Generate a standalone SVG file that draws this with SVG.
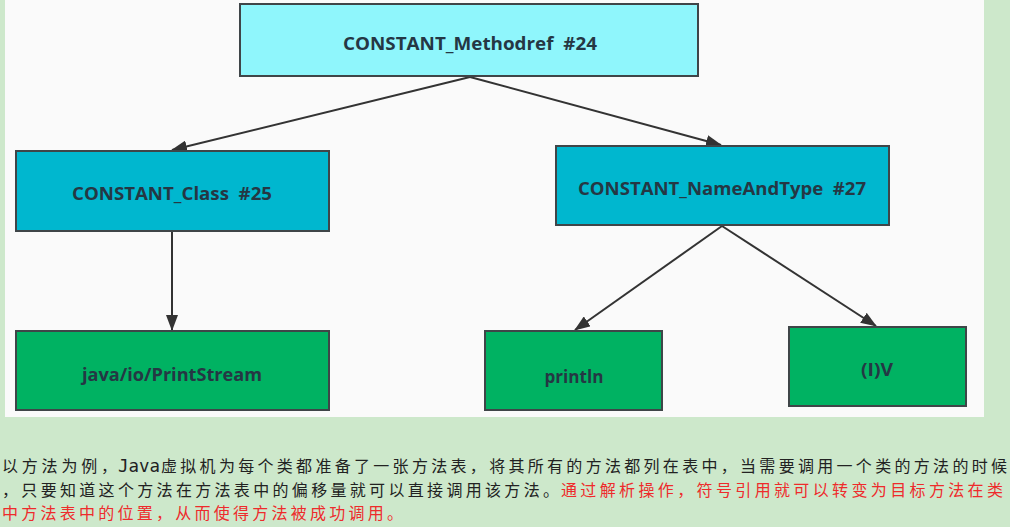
<svg xmlns="http://www.w3.org/2000/svg" width="1010" height="527" viewBox="0 0 1010 527">
<style>
.box{stroke:#3f4548;stroke-width:2}
.lbl{font-family:"Open Sans","Liberation Sans",sans-serif;font-weight:bold;font-size:17px;fill:#253744;text-anchor:middle;dominant-baseline:central}
.edge{stroke:#333;stroke-width:2;fill:none}
.cn{font-family:"Noto Sans CJK SC",sans-serif;font-size:16px}
.blk{fill:#222}
.red{fill:#ee2b2b}
</style>
<defs>
<marker id="ah" markerUnits="userSpaceOnUse" markerWidth="16" markerHeight="12" refX="15" refY="6" orient="auto">
<path d="M0,0 L16,6 L0,12 Z" fill="#333"/>
</marker>
</defs>
<rect x="0" y="0" width="1010" height="527" fill="#cde8cb"/>
<rect x="5" y="0" width="979" height="417" fill="#fafafa"/>
<g id="connectors">
<line class="edge" x1="470" y1="77" x2="172" y2="150" marker-end="url(#ah)"/>
<line class="edge" x1="470" y1="77" x2="721" y2="145" marker-end="url(#ah)"/>
<line class="edge" x1="172" y1="232" x2="172" y2="330" marker-end="url(#ah)"/>
<line class="edge" x1="722" y1="226" x2="575" y2="330" marker-end="url(#ah)"/>
<line class="edge" x1="722" y1="226" x2="876" y2="326" marker-end="url(#ah)"/>
</g>
<g id="n24">
<rect class="box" x="240" y="4" width="458" height="72" fill="#8ff6fc"/>
<text class="lbl" x="470" y="43" textLength="254" lengthAdjust="spacingAndGlyphs">CONSTANT_Methodref&#160; #24</text>
</g>
<g id="n25">
<rect class="box" x="16" y="151" width="313" height="80" fill="#00b7cf"/>
<text class="lbl" x="172" y="193" textLength="200" lengthAdjust="spacingAndGlyphs">CONSTANT_Class&#160; #25</text>
</g>
<g id="n27">
<rect class="box" x="556" y="146" width="333" height="79" fill="#00b7cf"/>
<text class="lbl" x="722" y="188" textLength="288" lengthAdjust="spacingAndGlyphs">CONSTANT_NameAndType&#160; #27</text>
</g>
<g id="nPrintStream">
<rect class="box" x="16" y="331" width="313" height="79" fill="#00b262"/>
<text class="lbl" x="172" y="374" textLength="180" lengthAdjust="spacingAndGlyphs">java/io/PrintStream</text>
</g>
<g id="nPrintln">
<rect class="box" x="485" y="331" width="177" height="79" fill="#00b262"/>
<text class="lbl" x="574" y="376" textLength="59" lengthAdjust="spacingAndGlyphs">println</text>
</g>
<g id="nIV">
<rect class="box" x="789" y="327" width="177" height="79" fill="#00b262"/>
<text class="lbl" x="877" y="369" textLength="32" lengthAdjust="spacingAndGlyphs">(I)V</text>
</g>
<g id="caption">
<text class="cn blk" x="2" y="472" textLength="115" lengthAdjust="spacing">以方法为例，</text>
<text x="118" y="472" font-family="DejaVu Sans Mono,Liberation Mono,monospace" font-size="17" fill="#222" textLength="42" lengthAdjust="spacingAndGlyphs">Java</text>
<text class="cn blk" x="161" y="472" textLength="846" lengthAdjust="spacing">虚拟机为每个类都准备了一张方法表，将其所有的方法都列在表中，当需要调用一个类的方法的时候</text>
<text class="cn blk" x="2" y="495.5" textLength="557" lengthAdjust="spacing">，只要知道这个方法在方法表中的偏移量就可以直接调用该方法。</text>
<text class="cn red" x="561" y="495.5" textLength="442" lengthAdjust="spacing">通过解析操作，符号引用就可以转变为目标方法在类</text>
<text class="cn red" x="2" y="519" textLength="401" lengthAdjust="spacing">中方法表中的位置，从而使得方法被成功调用。</text>
</g>
</svg>
